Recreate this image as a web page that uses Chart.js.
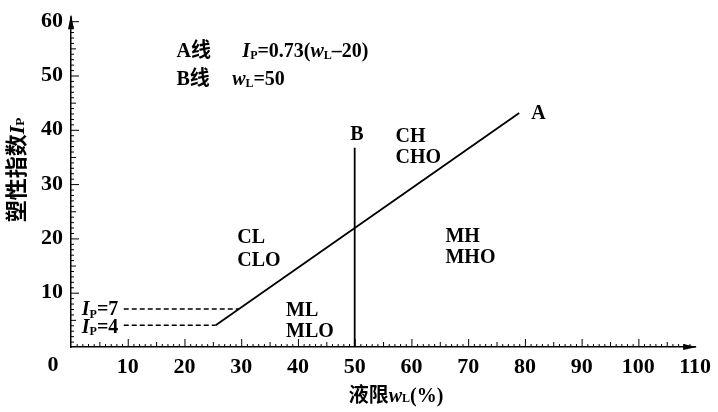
<!DOCTYPE html>
<html>
<head>
<meta charset="utf-8">
<script src="https://cdn.jsdelivr.net/npm/chart.js@4.4.0/dist/chart.umd.min.js"></script>
<style>
  html, body { margin: 0; padding: 0; background: #fff; }
  canvas { display: block; }
</style>
</head>
<body>
<canvas id="plasticity" width="718" height="412"></canvas>
<script>
// chart values
const xTicks = [0, 10, 20, 30, 40, 50, 60, 70, 80, 90, 100, 110];
const yTicks = [0, 10, 20, 30, 40, 50, 60];

// A line  Ip = 0.73(wL - 20)
const aLineWL = [25.5, 79];
const aLineIP = [4, 43.1];
// B line  wL = 50
const bLineWL = [50, 50];
const bLineIP = [0, 36.7];
// Ip = 4 and Ip = 7 dashed guides
const ip4WL = [9.3, 25.5];
const ip4IP = [4, 4];
const ip7WL = [9.3, 29.6];
const ip7IP = [7, 7];

const SERIF = "'Liberation Serif', 'Noto Sans CJK SC', serif";

function pts(xs, ys) {
  return xs.map((x, i) => ({x: x, y: ys[i]}));
}

// draws text made of pieces: italic letters, subscripts, CJK
function richWidth(ctx, parts, size) {
  let w = 0;
  parts.forEach(p => {
    const fs = p.sub ? size * 0.6 : size;
    ctx.font = (p.it ? 'italic ' : '') + 'bold ' + fs + 'px ' + SERIF;
    w += ctx.measureText(p.t).width;
  });
  return w;
}
function rich(ctx, x, y, parts, size) {
  let cx = x;
  parts.forEach(p => {
    const fs = p.sub ? size * 0.6 : size;
    ctx.font = (p.it ? 'italic ' : '') + 'bold ' + fs + 'px ' + SERIF;
    ctx.fillText(p.t, cx, y + (p.sub ? size * 0.12 : 0));
    cx += ctx.measureText(p.t).width;
  });
}

const IP = [{t: 'I', it: true}, {t: 'P', sub: true}];
const WL = [{t: 'w', it: true}, {t: 'L', sub: true}];

const decor = {
  id: 'decor',
  afterDraw(chart) {
    const ctx = chart.ctx;
    const xs = chart.scales.x, ys = chart.scales.y;
    const X = v => xs.getPixelForValue(v);
    const Y = v => ys.getPixelForValue(v);
    const x0 = X(0), y0 = Y(0);
    ctx.save();
    ctx.strokeStyle = '#000';
    ctx.fillStyle = '#000';

    // minor ticks, pointing inward
    ctx.lineWidth = 1;
    ctx.beginPath();
    for (let v = 1; v < 110; v++) {
      const len = v % 10 === 0 ? 8 : (v % 5 === 0 ? 5 : 3);
      ctx.moveTo(X(v) + 0.5, y0);
      ctx.lineTo(X(v) + 0.5, y0 - len);
    }
    for (let v = 1; v <= 60; v++) {
      const len = v % 10 === 0 ? 8 : (v % 5 === 0 ? 5 : 3);
      ctx.moveTo(x0, Y(v) + 0.5);
      ctx.lineTo(x0 + len, Y(v) + 0.5);
    }
    ctx.stroke();

    // axis arrows
    ctx.lineWidth = 1.5;
    ctx.beginPath();
    ctx.moveTo(x0, Y(60));
    ctx.lineTo(x0, Y(60) - 5);
    ctx.stroke();
    ctx.beginPath();
    ctx.moveTo(x0, Y(60) - 7);
    ctx.lineTo(x0 - 3, Y(60) + 8);
    ctx.lineTo(x0 + 3, Y(60) + 8);
    ctx.closePath();
    ctx.fill();
    ctx.beginPath();
    ctx.moveTo(X(110) + 2, y0);
    ctx.lineTo(X(110) - 12, y0 - 3);
    ctx.lineTo(X(110) - 12, y0 + 3);
    ctx.closePath();
    ctx.fill();

    // origin label
    ctx.textBaseline = 'middle';
    ctx.textAlign = 'center';
    ctx.font = 'bold 22px ' + SERIF;
    ctx.fillText('0', x0 - 18, y0 + 18);

    // annotations
    ctx.textAlign = 'left';
    ctx.textBaseline = 'alphabetic';
    const fs = 20;
    rich(ctx, X(18.6), Y(53.4), [{t: 'A线'}], fs);
    rich(ctx, X(30.2), Y(53.4), IP.concat([{t: '=0.73('}], WL, [{t: '\u201320)'}]), fs);
    rich(ctx, X(18.6), Y(48.3), [{t: 'B线'}], fs);
    rich(ctx, X(28.4), Y(48.3), WL.concat([{t: '=50'}]), fs);
    rich(ctx, X(49.2), Y(38.2), [{t: 'B'}], fs);
    rich(ctx, X(81.1), Y(41.9), [{t: 'A'}], fs);
    rich(ctx, X(57.2), Y(37.7), [{t: 'CH'}], fs);
    rich(ctx, X(57.2), Y(33.8), [{t: 'CHO'}], fs);
    rich(ctx, X(29.3), Y(19.2), [{t: 'CL'}], fs);
    rich(ctx, X(29.3), Y(15.0), [{t: 'CLO'}], fs);
    rich(ctx, X(66.0), Y(19.4), [{t: 'MH'}], fs);
    rich(ctx, X(66.0), Y(15.4), [{t: 'MHO'}], fs);
    rich(ctx, X(37.9), Y(5.7), [{t: 'ML'}], fs);
    rich(ctx, X(37.9), Y(1.8), [{t: 'MLO'}], fs);
    rich(ctx, X(1.9), Y(5.85), IP.concat([{t: '=7'}]), fs);
    rich(ctx, X(1.9), Y(2.6), IP.concat([{t: '=4'}]), fs);

    // axis titles
    ctx.textBaseline = 'middle';
    const xt = [{t: '液限'}].concat(WL, [{t: '(%)'}]);
    const xw = richWidth(ctx, xt, 20);
    rich(ctx, 396 - xw / 2, 397, xt, 20);

    const yt = [{t: '塑性指数'}].concat(IP);
    ctx.translate(18, 170);
    ctx.rotate(-Math.PI / 2);
    const yw = richWidth(ctx, yt, 22);
    rich(ctx, -yw / 2, 0, yt, 22);
    ctx.restore();
  }
};

const tickFont = {family: SERIF, weight: 'bold', size: 22};

new Chart(document.getElementById('plasticity'), {
  type: 'scatter',
  data: {
    datasets: [
      {data: pts(aLineWL, aLineIP), showLine: true, borderColor: '#000', borderWidth: 1.8, pointRadius: 0},
      {data: pts(bLineWL, bLineIP), showLine: true, borderColor: '#000', borderWidth: 1.8, pointRadius: 0},
      {data: pts(ip4WL, ip4IP), showLine: true, borderColor: '#000', borderWidth: 1.5, borderDash: [5, 3], pointRadius: 0},
      {data: pts(ip7WL, ip7IP), showLine: true, borderColor: '#000', borderWidth: 1.5, borderDash: [5, 3], pointRadius: 0}
    ]
  },
  options: {
    responsive: false,
    animation: false,
    devicePixelRatio: 1,
    layout: {autoPadding: false, padding: {left: 0, right: 20, top: 19, bottom: 0}},
    plugins: {legend: {display: false}, tooltip: {enabled: false}, title: {display: false}},
    scales: {
      x: {
        type: 'linear', min: 0, max: 110,
        afterBuildTicks: s => { s.ticks = xTicks.map(v => ({value: v})); },
        afterFit: s => { s.height = 65; },
        grid: {display: false, drawTicks: false},
        border: {display: true, color: '#000', width: 1.5},
        ticks: {padding: 7, color: '#000', font: tickFont, maxRotation: 0, autoSkip: false,
          callback: v => v === 0 ? '' : v}
      },
      y: {
        type: 'linear', min: 0, max: 60,
        afterBuildTicks: s => { s.ticks = yTicks.map(v => ({value: v})); },
        afterFit: s => { s.width = 71; },
        grid: {display: false, drawTicks: false},
        border: {display: true, color: '#000', width: 1.5},
        ticks: {padding: 8, color: '#000', font: tickFont, autoSkip: false,
          callback: v => v === 0 ? '' : v}
      }
    }
  },
  plugins: [decor]
});
</script>
</body>
</html>
